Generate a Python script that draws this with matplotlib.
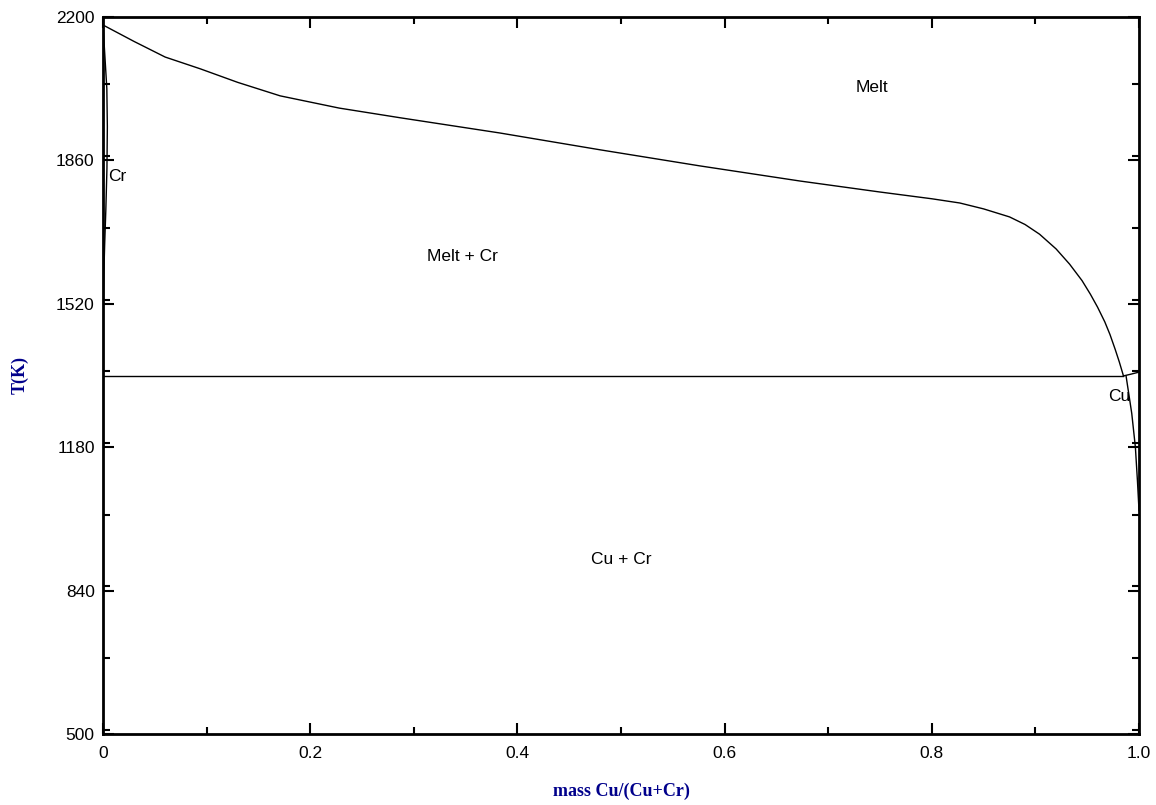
import numpy as np
import matplotlib.pyplot as plt
from matplotlib.ticker import MultipleLocator

# liquidus (Melt / Melt + Cr boundary)
liq_x = [0.0, 0.030, 0.060, 0.094, 0.130, 0.171, 0.228, 0.287, 0.383, 0.480, 0.576,
         0.673, 0.750, 0.800, 0.827, 0.850, 0.875, 0.890, 0.904, 0.920, 0.933,
         0.945, 0.953, 0.960, 0.967, 0.972, 0.977, 0.981, 0.985]
liq_T = [2181, 2142, 2105, 2077, 2045, 2013, 1984, 1961, 1925, 1885, 1847,
         1811, 1785, 1769, 1759, 1745, 1726, 1708, 1685, 1650, 1614,
         1575, 1543, 1512, 1477, 1447, 1412, 1382, 1349]

# Cr side solid boundary
cr_x = [0.0, 0.002, 0.0037, 0.0042, 0.0038, 0.0027, 0.0016, 0.0008, 0.0003, 0.0]
cr_T = [2181, 2100, 2030, 1940, 1840, 1740, 1660, 1590, 1520, 1349]

# eutectic
eut_x = [0.0, 0.985]
eut_T = [1349, 1349]

# Cu side solidus and solvus
cu_sol_x = [0.985, 0.992, 1.0]
cu_sol_T = [1349, 1353, 1358]
cu_svs_x = [0.9875, 0.993, 0.9965, 0.9985, 1.0]
cu_svs_T = [1349, 1260, 1180, 1100, 1030]

labels = ["Melt", "Cr", "Melt + Cr", "Cu", "Cu + Cr"]
lab_x = [0.742, 0.0045, 0.347, 0.981, 0.50]
lab_T = [2032, 1821, 1631, 1301, 913]
lab_ha = ["center", "left", "center", "center", "center"]

fig = plt.figure(figsize=(11.56, 8.05), dpi=100)
ax = fig.add_axes([0.0891, 0.0882, 0.8962, 0.8907])

lw = 1.0
ax.plot(liq_x, liq_T, color="black", lw=lw)
ax.plot(cr_x, cr_T, color="black", lw=lw)
ax.plot(eut_x, eut_T, color="black", lw=lw)
ax.plot(cu_sol_x, cu_sol_T, color="black", lw=lw)
ax.plot(cu_svs_x, cu_svs_T, color="black", lw=lw)

for t, x, y, ha in zip(labels, lab_x, lab_T, lab_ha):
    ax.text(x, y, t, ha=ha, va="center", fontsize=12.5, family="Liberation Sans")

ax.set_xlim(0, 1)
ax.set_ylim(500, 2200)
ax.xaxis.set_minor_locator(MultipleLocator(0.1))
ax.yaxis.set_minor_locator(MultipleLocator(170))
ax.set_xticks([0, 0.2, 0.4, 0.6, 0.8, 1.0])
ax.set_xticklabels(["0", "0.2", "0.4", "0.6", "0.8", "1.0"])
ax.set_yticks([500, 840, 1180, 1520, 1860, 2200])

ax.tick_params(which="both", direction="in", top=True, right=True, width=1.5)
ax.tick_params(which="major", length=8, labelsize=12.5)
ax.tick_params(axis="y", which="major", pad=6)
ax.tick_params(axis="x", which="major", pad=9)
ax.tick_params(which="minor", length=5)
for lab in ax.get_xticklabels() + ax.get_yticklabels():
    lab.set_family("Liberation Sans")
for s in ax.spines.values():
    s.set_linewidth(2)

ax.set_xlabel("mass Cu/(Cu+Cr)", family="Liberation Serif", fontweight="bold",
              color="#00008B", fontsize=13)
ax.set_ylabel("T(K)", family="Liberation Serif", fontweight="bold",
              color="#00008B", fontsize=13)
ax.xaxis.set_label_coords(0.5, -0.068)
ax.yaxis.set_label_coords(-0.072, 0.5)

fig.savefig("out.png", dpi=100)
